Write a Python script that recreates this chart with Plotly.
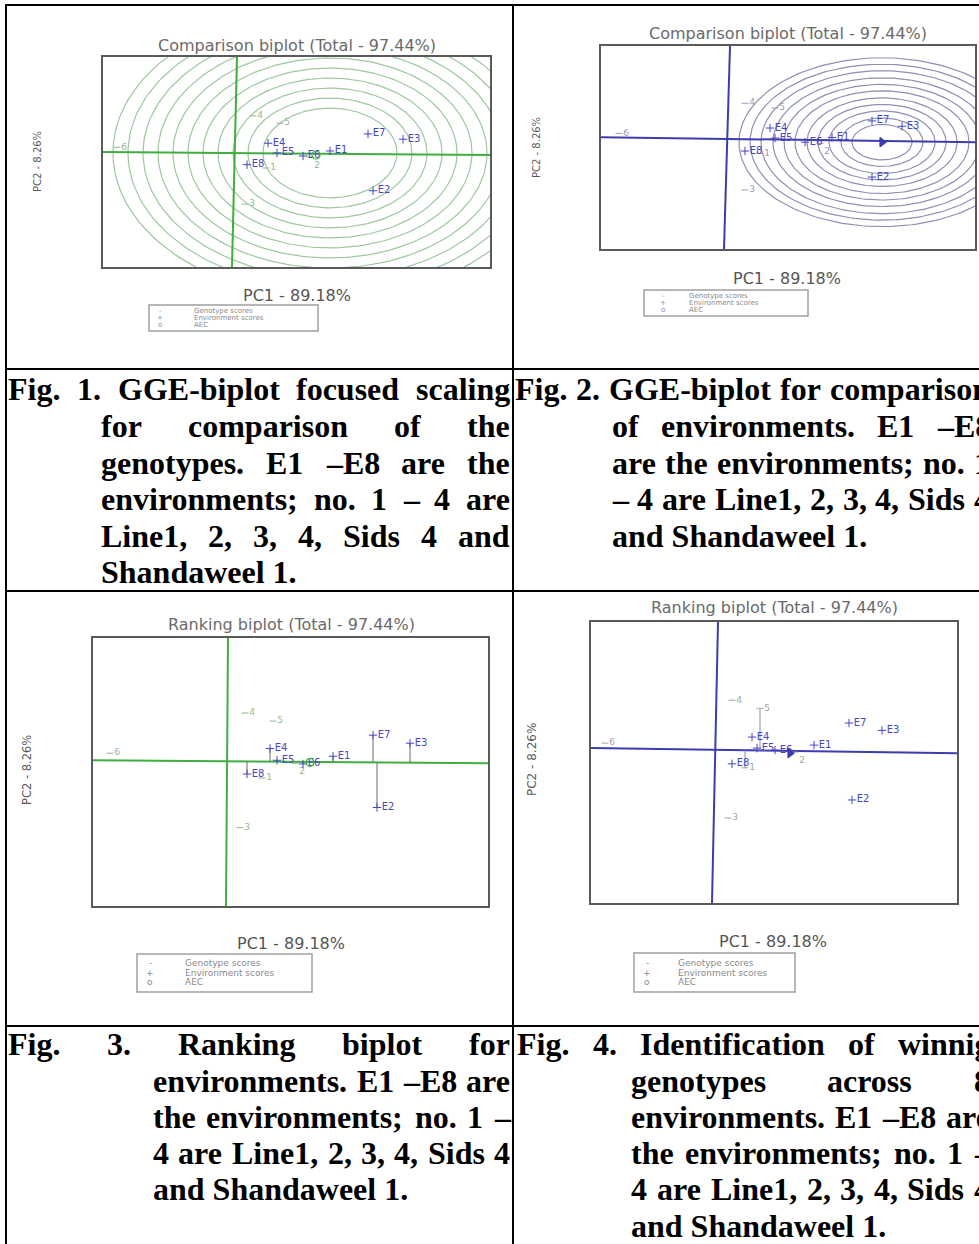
import numpy as np
import plotly.graph_objects as go

W, H = 979, 1244

ENV_LABELS = ["E1", "E2", "E3", "E4", "E5", "E6", "E7", "E8"]
GEN_LABELS = ["1", "2", "3", "4", "5", "6"]
GEN_TEXTPOS = ["middle right", "bottom right", "middle right", "middle right",
               "middle right", "middle right"]

# ---------------- Fig. 1 : comparison biplot (genotype focused) ----------------
F1_ENV_PC1 = [0.95, 1.38, 1.68, 0.33, 0.42, 0.68, 1.33, 0.12]
F1_ENV_PC2 = [0.045, -0.55, 0.22, 0.16, 0.015, -0.03, 0.30, -0.16]
F1_GEN_PC1 = [0.31, 0.75, 0.10, 0.18, 0.45, -1.18]
F1_GEN_PC2 = [-0.21, -0.045, -0.75, 0.57, 0.46, 0.10]
F1_AEC = [0.81, -0.015]
F1_RING_CENTER = [0.95, 0.015]
F1_RING_RADII = [0.67, 0.82, 0.97, 1.12, 1.27, 1.42, 1.57, 1.72, 1.87, 2.02, 2.17]
F1_AXIS_V = [[0.02, -0.03], [1.45, -1.69]]
F1_AXIS_H = [[-1.32, 2.55], [0.03, -0.015]]
F1_RANGE = [[-1.32, 2.55], [-1.69, 1.45]]

# ---------------- Fig. 2 : comparison biplot (environments) ----------------
F2_ENV_PC1 = [1.05, 1.45, 1.75, 0.43, 0.48, 0.78, 1.45, 0.18]
F2_ENV_PC2 = [0.03, -0.64, 0.22, 0.19, 0.02, -0.05, 0.31, -0.20]
F2_GEN_PC1 = [0.33, 0.93, 0.18, 0.18, 0.48, -1.08]
F2_GEN_PC2 = [-0.24, -0.07, -0.86, 0.61, 0.53, 0.10]
F2_AEC = [1.55, -0.05]
F2_RING_CENTER = [1.55, -0.05]
F2_RING_RADII = [0.30, 0.41, 0.53, 0.64, 0.75, 0.87, 0.98, 1.09, 1.21, 1.32, 1.43]
F2_AXIS_V = [[0.03, -0.03], [1.58, -1.86]]
F2_AXIS_H = [[-1.26, 2.48], [0.034, -0.05]]
F2_RANGE = [[-1.26, 2.48], [-1.86, 1.58]]

# ---------------- Fig. 3 : ranking biplot (environments) ----------------
F3_ENV_PC1 = [1.06, 1.50, 1.83, 0.43, 0.50, 0.76, 1.46, 0.20]
F3_ENV_PC2 = [0.075, -0.69, 0.27, 0.19, 0.015, -0.04, 0.39, -0.19]
F3_GEN_PC1 = [0.35, 0.68, 0.13, 0.18, 0.46, -1.17]
F3_GEN_PC2 = [-0.25, -0.03, -0.99, 0.72, 0.60, 0.12]
F3_AEC = [0.83, -0.015]
F3_AXIS_V = [[0.01, -0.01], [1.84, -2.16]]
F3_AXIS_H = [[-1.34, 2.61], [0.015, -0.03]]
F3_RANGE = [[-1.34, 2.61], [-2.16, 1.84]]

# ---------------- Fig. 4 : ranking biplot (genotypes) ----------------
F4_ENV_PC1 = [0.98, 1.36, 1.66, 0.36, 0.41, 0.59, 1.33, 0.16]
F4_ENV_PC2 = [0.06, -0.76, 0.28, 0.18, 0.015, -0.015, 0.39, -0.22]
F4_GEN_PC1 = [0.29, 0.79, 0.12, 0.16, 0.44, -1.11]
F4_GEN_PC2 = [-0.28, -0.045, -1.03, 0.73, 0.61, 0.09]
F4_AEC = [0.74, -0.06]
F4_AXIS_V = [[0.02, -0.04], [1.90, -2.30]]
F4_AXIS_H = [[-1.25, 2.41], [0.015, -0.06]]
F4_RANGE = [[-1.25, 2.41], [-2.30, 1.90]]

TITLE_COMP = "Comparison biplot (Total - 97.44%)"
TITLE_RANK = "Ranking biplot (Total - 97.44%)"
PC1_LABEL = "PC1 - 89.18%"
PC2_LABEL = "PC2 - 8.26%"
LEGEND_ROWS = ["Genotype scores", "Environment scores", "AEC"]
LEGEND_SYMS = ["-", "+", "o"]

CAP_TL = [("Fig. 1. GGE-biplot focused scaling", True),
          ("for comparison of the", True),
          ("genotypes. E1 –E8 are the", True),
          ("environments; no. 1 – 4 are", True),
          ("Line1, 2, 3, 4, Sids 4 and", True),
          ("Shandaweel 1.", False)]
CAP_TR = [("Fig. 2. GGE-biplot for comparison", True),
          ("of environments. E1 –E8", True),
          ("are the environments; no. 1", True),
          ("– 4 are Line1, 2, 3, 4, Sids 4", True),
          ("and Shandaweel 1.", False)]
CAP_BL = [("Fig. 3. Ranking biplot for", True),
          ("environments. E1 –E8 are", True),
          ("the environments; no. 1 –", True),
          ("4 are Line1, 2, 3, 4, Sids 4", True),
          ("and Shandaweel 1.", False)]
CAP_BR = [("Fig. 4. Identification of winnig", True),
          ("genotypes across 8", True),
          ("environments. E1 –E8 are", True),
          ("the environments; no. 1 –", True),
          ("4 are Line1, 2, 3, 4, Sids 4", True),
          ("and Shandaweel 1.", False)]

# ------------------------------------------------------------------
ENV_COL = "#4646c2"
GREEN = "#3fae3f"
BLUE = "#3c3cae"

panels = [
    dict(box=(103, 57, 490, 267), rng=F1_RANGE, ex=F1_ENV_PC1, ey=F1_ENV_PC2,
         gx=F1_GEN_PC1, gy=F1_GEN_PC2, aec=F1_AEC, aec_sym="circle-open",
         rc=F1_RING_CENTER, rr=F1_RING_RADII, ring_col="#9fc79f",
         av=F1_AXIS_V, ah=F1_AXIS_H, axis_col=GREEN, gen_col="#93b793",
         title=TITLE_COMP, t_xy=(297, 46), pc1_xy=(297, 295), pc2_xy=(37, 162), pc2_fs=10,
         lbox=(149, 305, 318, 331), lrows=[311, 318, 325], ltx=194, lsx=160, lfs=7,
         proj_env=[], proj_gen=[]),
    dict(box=(601, 46, 975, 249), rng=F2_RANGE, ex=F2_ENV_PC1, ey=F2_ENV_PC2,
         gx=F2_GEN_PC1, gy=F2_GEN_PC2, aec=F2_AEC, aec_sym="triangle-right",
         rc=F2_RING_CENTER, rr=F2_RING_RADII, ring_col="#8f8fb3",
         av=F2_AXIS_V, ah=F2_AXIS_H, axis_col=BLUE, gen_col="#9a9ab8",
         title=TITLE_COMP, t_xy=(788, 33), pc1_xy=(787, 278), pc2_xy=(536, 148), pc2_fs=10,
         lbox=(644, 290, 808, 316), lrows=[296, 303, 310], ltx=689, lsx=663, lfs=7,
         proj_env=[], proj_gen=[]),
    dict(box=(93, 638, 488, 906), rng=F3_RANGE, ex=F3_ENV_PC1, ey=F3_ENV_PC2,
         gx=F3_GEN_PC1, gy=F3_GEN_PC2, aec=F3_AEC, aec_sym="circle-open",
         rc=None, rr=[], ring_col=None,
         av=F3_AXIS_V, ah=F3_AXIS_H, axis_col=GREEN, gen_col="#93b793",
         title=TITLE_RANK, t_xy=(291, 624), pc1_xy=(291, 943), pc2_xy=(27, 770), pc2_fs=11.5,
         lbox=(137, 954, 312, 992), lrows=[963, 973, 982], ltx=185, lsx=150, lfs=9,
         proj_env=list(range(8)), proj_gen=[]),
    dict(box=(591, 622, 957, 903), rng=F4_RANGE, ex=F4_ENV_PC1, ey=F4_ENV_PC2,
         gx=F4_GEN_PC1, gy=F4_GEN_PC2, aec=F4_AEC, aec_sym="triangle-right",
         rc=None, rr=[], ring_col=None,
         av=F4_AXIS_V, ah=F4_AXIS_H, axis_col=BLUE, gen_col="#9aaa9a",
         title=TITLE_RANK, t_xy=(774, 607), pc1_xy=(773, 941), pc2_xy=(532, 760), pc2_fs=12,
         lbox=(634, 953, 795, 992), lrows=[963, 973, 982], ltx=678, lsx=647, lfs=9,
         proj_env=[], proj_gen=[4, 0]),
]


def px(x):
    return x / W


def py(y):
    return 1 - y / H


fig = go.Figure()
annotations = []
shapes = []
layout_axes = {}


def ann(text, x, y, size, color, family="DejaVu Sans", xanchor="center",
        yanchor="middle", angle=0):
    annotations.append(dict(text=text, x=px(x), y=py(y), xref="paper", yref="paper",
                            showarrow=False, xanchor=xanchor, yanchor=yanchor,
                            textangle=angle, borderpad=0, borderwidth=0,
                            font=dict(family=family, size=size, color=color)))


for i, p in enumerate(panels):
    n = "" if i == 0 else str(i + 1)
    xa, ya = "x" + n, "y" + n
    x0, y0, x1, y1 = p["box"]
    common = dict(showgrid=False, zeroline=False, showticklabels=False, ticks="",
                  showline=True, mirror=True, linecolor="#5a5a5a", linewidth=2,
                  fixedrange=True)
    layout_axes["xaxis" + n] = dict(domain=[px(x0), px(x1)], range=p["rng"][0],
                                    anchor=ya, **common)
    layout_axes["yaxis" + n] = dict(domain=[py(y1), py(y0)], range=p["rng"][1],
                                    anchor=xa, **common)

    # concentric rings
    if p["rc"] is not None:
        t = np.linspace(0, 2 * np.pi, 181)
        for r in p["rr"]:
            fig.add_trace(go.Scatter(x=p["rc"][0] + r * np.cos(t), y=p["rc"][1] + r * np.sin(t),
                                     mode="lines", line=dict(color=p["ring_col"], width=1.2),
                                     xaxis=xa, yaxis=ya, hoverinfo="skip", showlegend=False))
    # AEC axes
    for seg in (p["av"], p["ah"]):
        fig.add_trace(go.Scatter(x=seg[0], y=seg[1], mode="lines",
                                 line=dict(color=p["axis_col"], width=2),
                                 xaxis=xa, yaxis=ya, hoverinfo="skip", showlegend=False))
    # projection lines onto the abscissa
    hx, hy = p["ah"]

    def on_axis(xv):
        return hy[0] + (hy[1] - hy[0]) * (xv - hx[0]) / (hx[1] - hx[0])

    for k in p["proj_env"]:
        fig.add_trace(go.Scatter(x=[p["ex"][k], p["ex"][k]], y=[p["ey"][k], on_axis(p["ex"][k])],
                                 mode="lines", line=dict(color="#6a6a6a", width=1),
                                 xaxis=xa, yaxis=ya, hoverinfo="skip", showlegend=False))
    for k in p["proj_gen"]:
        fig.add_trace(go.Scatter(x=[p["gx"][k], p["gx"][k]], y=[p["gy"][k], on_axis(p["gx"][k])],
                                 mode="lines", line=dict(color="#8a8ab0", width=1),
                                 xaxis=xa, yaxis=ya, hoverinfo="skip", showlegend=False))
    # genotype scores
    fig.add_trace(go.Scatter(x=p["gx"], y=p["gy"], mode="markers+text", text=GEN_LABELS,
                             textposition=GEN_TEXTPOS,
                             textfont=dict(family="DejaVu Sans", size=9, color=p["gen_col"]),
                             marker=dict(symbol="line-ew", size=5,
                                         line=dict(color=p["gen_col"], width=1)),
                             xaxis=xa, yaxis=ya, hoverinfo="skip", showlegend=False))
    # environment scores
    fig.add_trace(go.Scatter(x=p["ex"], y=p["ey"], mode="markers+text", text=ENV_LABELS,
                             textposition="middle right",
                             textfont=dict(family="DejaVu Sans", size=10, color=ENV_COL),
                             marker=dict(symbol="cross-thin", size=6,
                                         line=dict(color=ENV_COL, width=1)),
                             xaxis=xa, yaxis=ya, hoverinfo="skip", showlegend=False))
    # AEC marker
    fig.add_trace(go.Scatter(x=[p["aec"][0]], y=[p["aec"][1]], mode="markers",
                             marker=dict(symbol=p["aec_sym"], size=8, color=p["axis_col"],
                                         line=dict(color=p["axis_col"], width=1.2)),
                             xaxis=xa, yaxis=ya, hoverinfo="skip", showlegend=False))

    # titles and axis labels
    ann(p["title"], *p["t_xy"], 16, "#6a6a6a")
    ann(PC1_LABEL, *p["pc1_xy"], 16, "#555555")
    ann(PC2_LABEL, *p["pc2_xy"], p["pc2_fs"], "#5a5a5a", angle=-90)
    # legend box
    lx0, ly0, lx1, ly1 = p["lbox"]
    shapes.append(dict(type="rect", xref="paper", yref="paper", x0=px(lx0), x1=px(lx1),
                       y0=py(ly1), y1=py(ly0), line=dict(color="#a0a0a0", width=1.5)))
    for row, sym, yy in zip(LEGEND_ROWS, LEGEND_SYMS, p["lrows"]):
        ann(row, p["ltx"], yy, p["lfs"], "#8a8a8a", xanchor="left")
        ann(sym, p["lsx"], yy, p["lfs"], "#8a8a9a")


# ---------------- table rules ----------------
def hline(y, x0=5, x1=979, w=2):
    shapes.append(dict(type="line", xref="paper", yref="paper", x0=px(x0), x1=px(x1),
                       y0=py(y), y1=py(y), line=dict(color="black", width=w)))


def vline(x, y0=4, y1=1244, w=2):
    shapes.append(dict(type="line", xref="paper", yref="paper", x0=px(x), x1=px(x),
                       y0=py(y0), y1=py(y1), line=dict(color="black", width=w)))


hline(5)
hline(369)
hline(591)
hline(1026)
vline(6)
vline(513)

# ---------------- captions (Times bold, justified) ----------------
TB = {' ': 250, 'F': 611, 'i': 278, 'g': 500, '.': 250, '1': 500, '2': 500, '3': 500,
      '4': 500, '8': 500, 'G': 778, 'E': 667, '-': 333, 'b': 556, 'p': 556, 'l': 278,
      'o': 500, 't': 333, 'f': 333, 'c': 444, 'u': 556, 's': 389, 'e': 444, 'd': 556,
      'a': 500, 'n': 556, 'm': 833, 'r': 444, 'h': 556, 'y': 500, 'v': 500, ';': 333,
      '–': 500, 'L': 667, ',': 250, 'S': 556, 'w': 722, 'R': 722, 'k': 556, 'I': 389,
      'x': 500}
FS = 32


def tw(s):
    return sum(TB.get(c, 500) for c in s) / 1000.0 * FS


def cap_word(text, x, baseline):
    annotations.append(dict(text="<b>" + text + "</b>", x=px(x), y=py(baseline - 10.8),
                            xref="paper", yref="paper", showarrow=False,
                            xanchor="left", yanchor="middle", borderpad=0, borderwidth=0,
                            font=dict(family="Liberation Serif", size=FS, color="black")))


def caption(lines, x_first, x_indent, x_end, baselines):
    for k, (line, just) in enumerate(lines):
        x0 = x_first if k == 0 else x_indent
        words = line.split(" ")
        b = baselines[k]
        if just and len(words) > 1:
            widths = [tw(w) for w in words]
            gap = max((x_end - x0 - sum(widths)) / (len(words) - 1), tw(" "))
            x = x0
            for w, wd in zip(words, widths):
                cap_word(w, x, b)
                x += wd + gap
        else:
            cap_word(line, x0, b)


TOP_BASE = [400, 437, 474, 510, 547, 583]
BOT_BASE = [1055, 1092, 1128, 1164, 1200, 1237]
caption(CAP_TL, 8, 101, 510, TOP_BASE)
caption(CAP_TR, 515, 612, 990, TOP_BASE)
caption(CAP_BL, 8, 153, 510, BOT_BASE)
caption(CAP_BR, 517, 631, 990, BOT_BASE)

fig.update_layout(width=W, height=H, margin=dict(l=0, r=0, t=0, b=0),
                  paper_bgcolor="white", plot_bgcolor="white", showlegend=False,
                  annotations=annotations, shapes=shapes, **layout_axes)

fig.write_html("out.html", config={"displayModeBar": False},
               post_script="document.body.style.margin='0px';document.body.style.padding='0px';")
